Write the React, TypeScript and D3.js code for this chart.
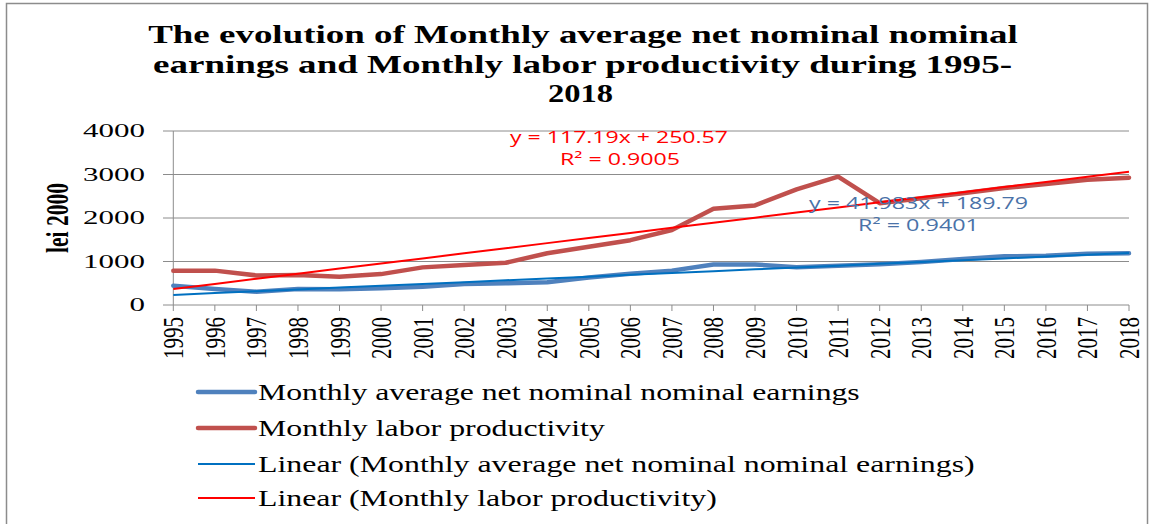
import React, { useLayoutEffect, useRef, useState } from "react";
import * as d3 from "d3";

const years = d3.range(1995, 2019);
const earnings = [444, 370, 306, 368, 360, 385, 421, 480, 498, 521, 630, 720, 790, 930, 930, 870, 900, 935, 990, 1060, 1120, 1130, 1180, 1190];
const productivity = [790, 790, 680, 690, 650, 710, 865, 920, 970, 1190, 1340, 1490, 1724, 2210, 2290, 2659, 2950, 2340, 2452, 2567, 2690, 2780, 2880, 2927];
const yTicks = [0, 1000, 2000, 3000, 4000];
const earnTrend = { slope: 41.983, intercept: 189.79, r2: "0.9401" };
const prodTrend = { slope: 117.19, intercept: 250.57, r2: "0.9005" };
const titleLines = [
  "The evolution of Monthly average net nominal nominal",
  "earnings and Monthly labor productivity during 1995-",
  "2018",
];
const legendItems = [
  { label: "Monthly average net nominal nominal earnings", color: "#4F81BD", w: 4.5, len: 602 },
  { label: "Monthly labor productivity", color: "#C0504D", w: 4.5, len: 347 },
  { label: "Linear (Monthly average net nominal nominal earnings)", color: "#0070C0", w: 2, len: 717 },
  { label: "Linear (Monthly labor productivity)", color: "#FF0000", w: 2, len: 459 },
];

type FitProps = {
  x: number;
  y: number;
  width: number;
  anchor?: "start" | "middle";
  children: string;
  [k: string]: any;
};

function FitText({ x, y, width, anchor = "start", children, ...rest }: FitProps) {
  const ref = useRef<SVGTextElement>(null);
  const [s, setS] = useState(1);
  useLayoutEffect(() => {
    if (ref.current) {
      const w = ref.current.getComputedTextLength();
      if (w > 0) setS(width / w);
    }
  }, [width, children]);
  return (
    <text ref={ref} transform={`translate(${x},${y}) scale(${s},1)`} textAnchor={anchor} {...rest}>
      {children}
    </text>
  );
}

export default function App() {
  const x = d3.scaleLinear().domain([1995, 2018]).range([173.3, 1129]);
  const y = d3.scaleLinear().domain([0, 4000]).range([305, 131]);
  const line = d3
    .line<number>()
    .x((_, i) => x(years[i]))
    .y((d) => y(d));
  const trend = (t: { slope: number; intercept: number }) =>
    years.map((_, i) => t.slope * (i + 1) + t.intercept);

  const serif = "'Liberation Serif', 'Times New Roman', serif";
  const sans = "'Open Sans', 'Liberation Sans', sans-serif";
  const titleWidths = [870, 859, 65];
  const titleCenters = [583, 582.5, 580.5];
  const titleBase = [43, 73, 102];

  return (
    <svg width={1151} height={524} style={{ position: "absolute", left: 0, top: 0, background: "#fff" }}>
      <rect x={6.5} y={3.5} width={1141} height={540} fill="#fff" stroke="#8c8c8c" strokeWidth={1.5} />
      {titleLines.map((t, i) => (
        <FitText
          key={i}
          x={titleCenters[i]}
          y={titleBase[i]}
          width={titleWidths[i]}
          anchor="middle"
          fontFamily={serif}
          fontWeight="bold"
          fontSize={26}
          fill="#000"
        >
          {t}
        </FitText>
      ))}
      {yTicks.map((v) => (
        <g key={v}>
          <line x1={163} x2={1129} y1={y(v)} y2={y(v)} stroke="#8c8c8c" strokeWidth={1} />
          <text
            transform={`translate(145,${y(v)}) scale(1.72,1)`}
            textAnchor="end"
            dy="0.34em"
            fontFamily={serif}
            fontSize={18}
            fill="#000"
          >
            {v}
          </text>
        </g>
      ))}
      <line x1={173.3} x2={173.3} y1={131} y2={305} stroke="#8c8c8c" strokeWidth={1} />
      {years.map((yr) => (
        <g key={yr}>
          <line x1={x(yr)} x2={x(yr)} y1={305} y2={311} stroke="#8c8c8c" strokeWidth={1} />
          <text
            transform={`translate(${x(yr)},317) scale(1.36,1) rotate(-90)`}
            textAnchor="end"
            dy="0.35em"
            fontFamily={serif}
            fontSize={21}
            fill="#000"
          >
            {yr}
          </text>
        </g>
      ))}
      <text
        transform="translate(57.5,218) scale(1.44,1) rotate(-90)"
        textAnchor="middle"
        dy="0.35em"
        fontFamily={serif}
        fontWeight="bold"
        fontSize={21.5}
        fill="#000"
      >
        lei 2000
      </text>
      <path d={line(earnings) || ""} fill="none" stroke="#4F81BD" strokeWidth={4.5} strokeLinejoin="round" strokeLinecap="round" />
      <path d={line(productivity) || ""} fill="none" stroke="#C0504D" strokeWidth={4.5} strokeLinejoin="round" strokeLinecap="round" />
      <path d={line(trend(earnTrend)) || ""} fill="none" stroke="#0070C0" strokeWidth={2} />
      <path d={line(trend(prodTrend)) || ""} fill="none" stroke="#FF0000" strokeWidth={2} />
      <FitText x={619} y={143} width={218} anchor="middle" fontFamily={sans} fontSize={16} fill="#FF0000">
        {`y = ${prodTrend.slope}x + ${prodTrend.intercept}`}
      </FitText>
      <FitText x={620} y={165} width={120} anchor="middle" fontFamily={sans} fontSize={16} fill="#FF0000">
        {`R² = ${prodTrend.r2}`}
      </FitText>
      <FitText x={918.5} y={209} width={219} anchor="middle" fontFamily={sans} fontSize={16} fill="#4A72A8">
        {`y = ${earnTrend.slope}x + ${earnTrend.intercept}`}
      </FitText>
      <FitText x={918.5} y={231} width={121} anchor="middle" fontFamily={sans} fontSize={16} fill="#4A72A8">
        {`R² = ${earnTrend.r2}`}
      </FitText>
      {legendItems.map((it, i) => {
        const cy = [392, 428, 464, 498][i];
        return (
          <g key={it.label}>
            <line x1={198} x2={255} y1={cy} y2={cy} stroke={it.color} strokeWidth={it.w} strokeLinecap={it.w > 3 ? "round" : "butt"} />
            <FitText x={258} y={cy + 8} width={it.len} fontFamily={serif} fontSize={23} fill="#000">
              {it.label}
            </FitText>
          </g>
        );
      })}
    </svg>
  );
}
